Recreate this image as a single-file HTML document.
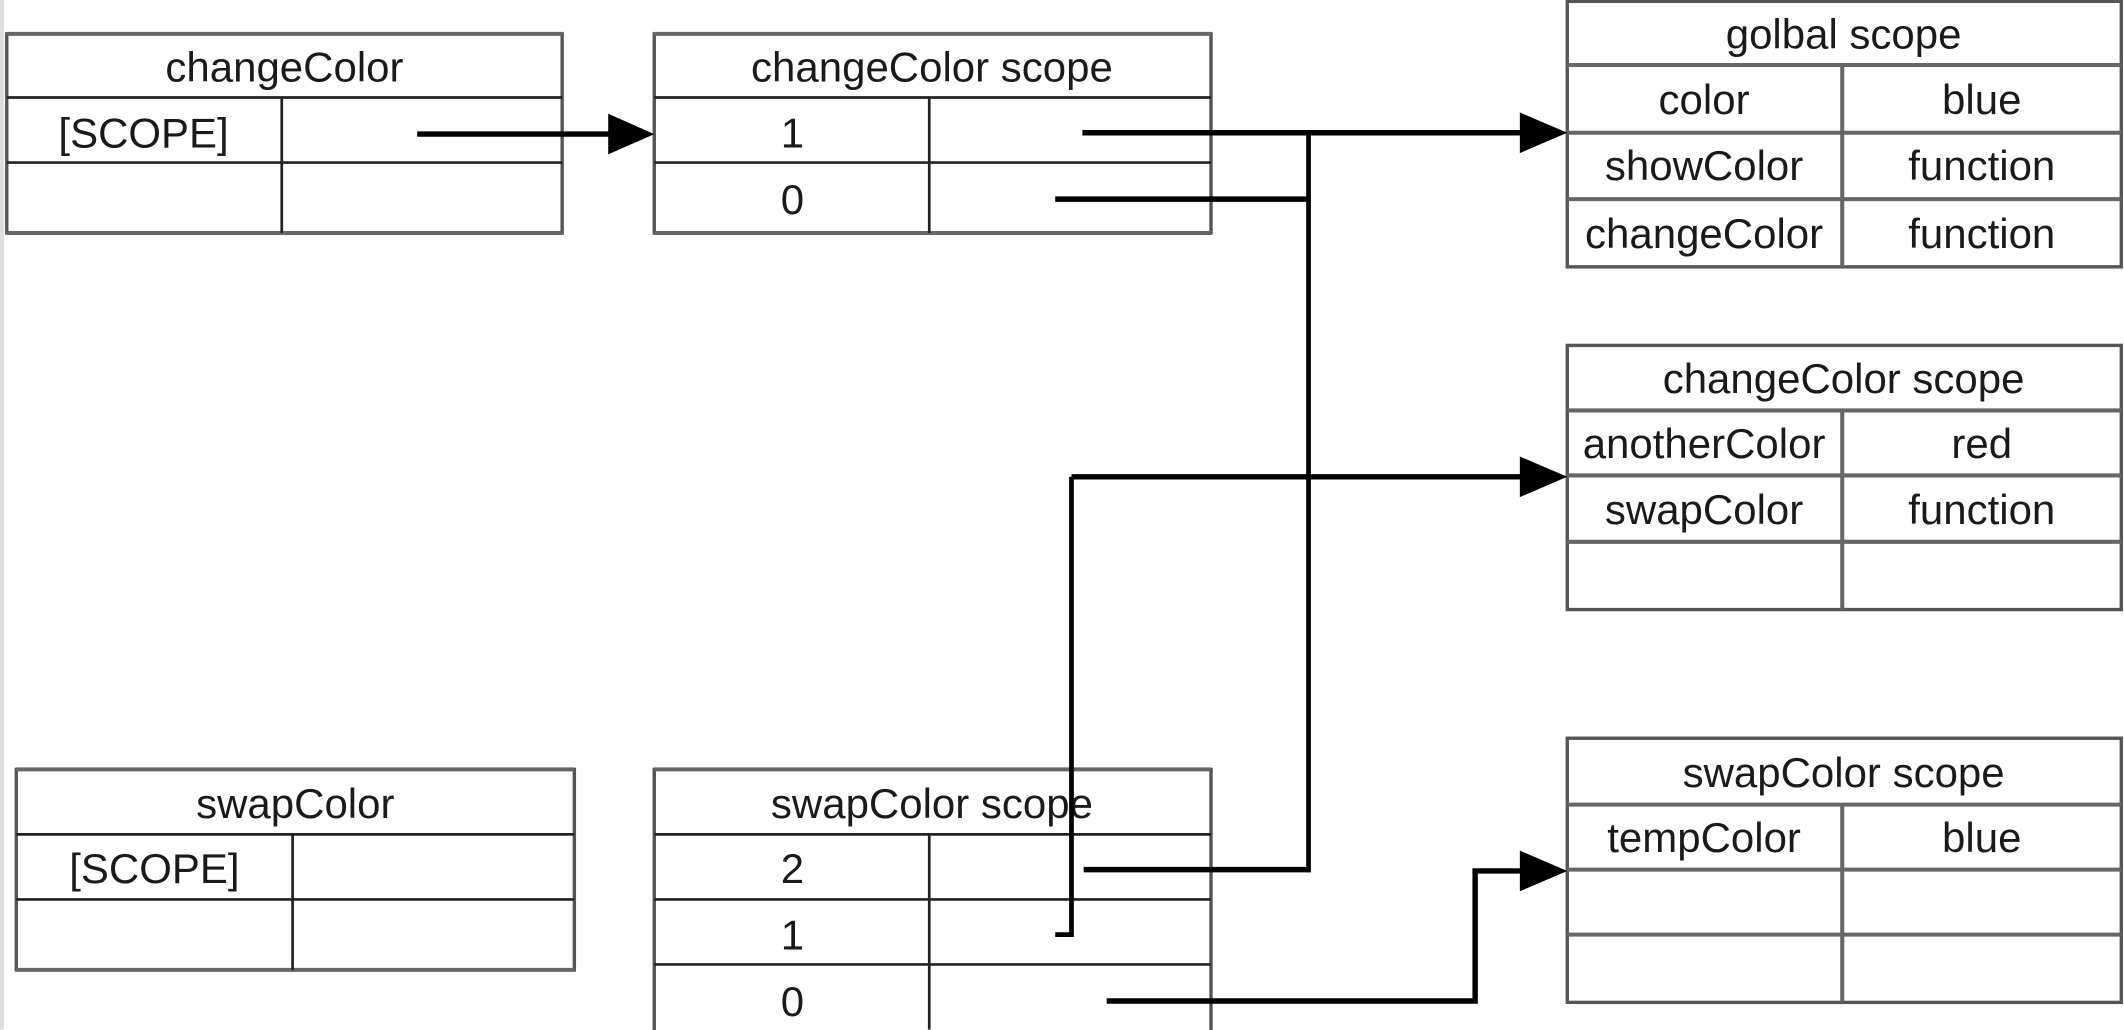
<!DOCTYPE html>
<html><head><meta charset="utf-8"><style>
html,body{margin:0;padding:0;background:#fff;width:2124px;height:1030px;overflow:hidden}
svg{display:block}
text{font-family:"Liberation Sans",sans-serif;font-size:31px;fill:#1a1a1a;text-anchor:middle}
.b{fill:#fff;stroke:#555;stroke-width:2.5}
.l{stroke:#222;stroke-width:2;fill:none}
.g{stroke:#666;stroke-width:3;fill:none}
.c{stroke:#000;stroke-width:4;fill:none}
</style></head><body>
<svg width="2124" height="1030" viewBox="0 0 1568 760.4" preserveAspectRatio="none">
<rect x="0" y="0" width="3" height="760" fill="#ddd"/>
<!-- changeColor -->
<rect class="b" x="5" y="25" width="410" height="147"/>
<line class="g" x1="5" y1="25" x2="415" y2="25"/><line class="g" x1="5" y1="172" x2="415" y2="172"/>
<line class="l" x1="5" y1="72" x2="415" y2="72"/><line class="l" x1="5" y1="120" x2="415" y2="120"/>
<line class="l" x1="208" y1="72" x2="208" y2="172"/>
<text x="210" y="60">changeColor</text><text x="106" y="109">[SCOPE]</text>
<!-- changeColor scope -->
<rect class="b" x="483" y="25" width="411" height="147"/>
<line class="g" x1="483" y1="25" x2="894" y2="25"/><line class="g" x1="483" y1="172" x2="894" y2="172"/>
<line class="l" x1="483" y1="72" x2="894" y2="72"/><line class="l" x1="483" y1="120" x2="894" y2="120"/>
<line class="l" x1="686" y1="72" x2="686" y2="172"/>
<text x="688" y="60">changeColor scope</text><text x="585" y="109">1</text><text x="585" y="158">0</text>
<!-- global -->
<rect class="b" x="1157" y="1" width="409" height="196"/>
<line class="g" x1="1157" y1="48" x2="1566" y2="48"/><line class="g" x1="1157" y1="98" x2="1566" y2="98"/><line class="g" x1="1157" y1="147" x2="1566" y2="147"/>
<line class="g" x1="1360" y1="48" x2="1360" y2="197"/>
<text x="1361" y="36">golbal scope</text>
<text x="1258" y="84">color</text><text x="1463" y="84">blue</text>
<text x="1258" y="133">showColor</text><text x="1463" y="133">function</text>
<text x="1258" y="183">changeColor</text><text x="1463" y="183">function</text>
<!-- changeColor scope right -->
<rect class="b" x="1157" y="255" width="409" height="195"/>
<line class="g" x1="1157" y1="303" x2="1566" y2="303"/><line class="g" x1="1157" y1="351" x2="1566" y2="351"/><line class="g" x1="1157" y1="400" x2="1566" y2="400"/>
<line class="g" x1="1360" y1="303" x2="1360" y2="450"/>
<text x="1361" y="290">changeColor scope</text>
<text x="1258" y="338">anotherColor</text><text x="1463" y="338">red</text>
<text x="1258" y="387">swapColor</text><text x="1463" y="387">function</text>
<!-- swapColor scope right -->
<rect class="b" x="1157" y="545" width="409" height="195"/>
<line class="g" x1="1157" y1="594" x2="1566" y2="594"/><line class="g" x1="1157" y1="642" x2="1566" y2="642"/><line class="g" x1="1157" y1="690" x2="1566" y2="690"/>
<line class="g" x1="1360" y1="594" x2="1360" y2="740"/>
<text x="1361" y="581">swapColor scope</text>
<text x="1258" y="629">tempColor</text><text x="1463" y="629">blue</text>
<!-- swapColor -->
<rect class="b" x="12" y="568" width="412" height="148"/>
<line class="g" x1="12" y1="568" x2="424" y2="568"/><line class="g" x1="12" y1="716" x2="424" y2="716"/>
<line class="l" x1="12" y1="616" x2="424" y2="616"/><line class="l" x1="12" y1="664" x2="424" y2="664"/>
<line class="l" x1="216" y1="616" x2="216" y2="716"/>
<text x="218" y="604">swapColor</text><text x="114" y="652">[SCOPE]</text>
<!-- swapColor scope -->
<rect class="b" x="483" y="568" width="411" height="200"/>
<line class="g" x1="483" y1="568" x2="894" y2="568"/>
<line class="l" x1="483" y1="616" x2="894" y2="616"/><line class="l" x1="483" y1="664" x2="894" y2="664"/><line class="l" x1="483" y1="712" x2="894" y2="712"/>
<line class="l" x1="686" y1="616" x2="686" y2="760"/>
<text x="688" y="604">swapColor scope</text><text x="585" y="652">2</text><text x="585" y="701">1</text><text x="585" y="750">0</text>
<!-- connectors -->
<polyline class="c" points="308,99 455,99"/>
<polygon points="449,84 483,99 449,114" fill="#000"/>
<polyline class="c" points="799,98 1128,98"/>
<polygon points="1122,83 1157,98 1122,113" fill="#000"/>
<polyline class="c" points="779,147 966,147"/>
<line x1="966" y1="96" x2="966" y2="644" stroke="#000" stroke-width="3.5"/>
<polyline class="c" points="800,642 966,642"/>
<polyline style="stroke:#000;stroke-width:3.5;fill:none" points="779,690 791,690 791,352"/>
<polyline class="c" points="791,352 1128,352"/>
<polygon points="1122,337 1157,352 1122,367" fill="#000"/>
<polyline class="c" points="817,739 1089,739 1089,643 1128,643"/>
<polygon points="1122,628 1157,643 1122,658" fill="#000"/>
</svg>
</body></html>
